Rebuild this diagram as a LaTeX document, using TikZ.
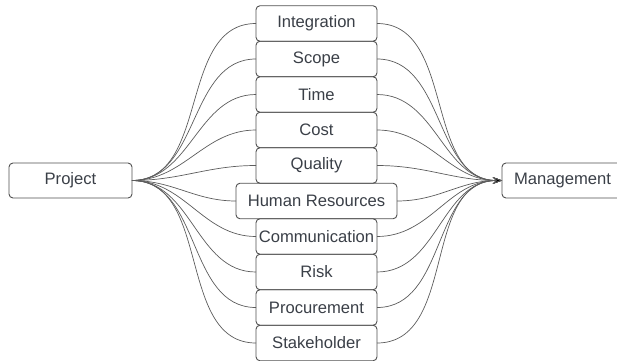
\documentclass[tikz,border=0pt]{standalone}
\usepackage{fontspec}
\setmainfont{Liberation Sans}
\usetikzlibrary{arrows.meta}
\usetikzlibrary{positioning}
\usepackage{xcolor}
\definecolor{boxline}{HTML}{505050}
\definecolor{wire}{HTML}{5C5C5C}
\definecolor{ink}{HTML}{3A3F47}

\begin{document}
\begin{tikzpicture}[x=1pt,y=1pt,>={Stealth[length=9pt,width=6.5pt]},
  area node/.style={rectangle,rounded corners=4pt,draw=boxline,line width=0.9pt,
    text=ink,font=\fontsize{16.6}{19}\selectfont,minimum width=121pt,
    minimum height=35.5pt,inner sep=0pt,outer sep=0pt},
  wide node/.style={area node,minimum width=161pt},
  end node/.style={area node,minimum width=123pt,minimum height=35pt},
  link/.style={draw=wire,line width=0.7pt,out=0,in=180}]

  \useasboundingbox (0,0) rectangle (617,360);

  \node[end node] (P) at (70.5,179.5) {Project};
  \node[area node] (I) at (316.5,336.5) {Integration};
  \node[area node] (S) [below=0pt of I] {Scope};
  \node[area node] (T) [below=0pt of S] {Time};
  \node[area node] (C) [below=0pt of T] {Cost};
  \node[area node] (Q) [below=0pt of C] {Quality};
  \node[wide node] (HR) [below=0pt of Q] {Human Resources};
  \node[area node] (CO) [below=0pt of HR] {Communication};
  \node[area node] (R) [below=0pt of CO] {Risk};
  \node[area node] (PR) [below=0pt of R] {Procurement};
  \node[area node] (SH) [below=0pt of PR] {Stakeholder};
  \node[end node,minimum width=121pt] (M) at (562.5,179.5) {Management};

  \path[link]
    (P) edge (I)
    (P) edge (S)
    (P) edge (T)
    (P) edge (C)
    (P) edge (Q)
    (P) edge (HR)
    (P) edge (CO)
    (P) edge (R)
    (P) edge (PR)
    (P) edge (SH);

  \path[link,->]
    (I) edge (M)
    (S) edge (M)
    (T) edge (M)
    (C) edge (M)
    (Q) edge (M)
    (HR) edge (M)
    (CO) edge (M)
    (R) edge (M)
    (PR) edge (M)
    (SH) edge (M);
\end{tikzpicture}
\end{document}
